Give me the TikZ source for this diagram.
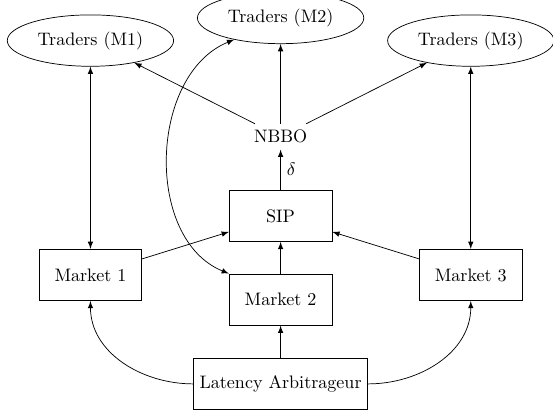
\documentclass[tikz,border=0pt]{standalone}
\usepackage{tikz}
\usetikzlibrary{shapes}
\usepackage{amsmath}
\usepackage{amssymb}

\begin{document}
\begin{tikzpicture}[>=latex,
  market/.style={draw, rectangle, minimum width=2cm, minimum height=1cm},
  traders/.style={draw, ellipse, minimum height=1cm}]
  \useasboundingbox (-5.46,-3.89) rectangle (5.30,4.20);

  \node[traders] (traders1) at (-3.7,3.41) {Traders (M1)};
  \node[traders] (traders2) at (0,3.85) {Traders (M2)};
  \node[traders] (traders3) at (3.7,3.41) {Traders (M3)};

  \node (nbbo) at (0,1.54) {NBBO};
  \node[market] (sip) at (0,0) {SIP};

  \node[market] (market1) at (-3.7,-1.15) {Market 1};
  \node[market] (market2) at (0,-1.63) {Market 2};
  \node[market] (market3) at (3.7,-1.15) {Market 3};

  \node[market] (latarb) at (0,-3.27) {Latency Arbitrageur};

  \path[->] (sip) edge node[right] {$\delta$} (nbbo);
  \path[->] (nbbo) edge (traders1);
  \path[->] (nbbo) edge (traders2);
  \path[->] (nbbo) edge (traders3);

  \path[<->] (traders1) edge (market1);
  \path[<->] (traders3) edge (market3);

  \path[->] (market1) edge (sip);
  \path[->] (market2) edge (sip);
  \path[->] (market3) edge (sip);

  \path[->] (latarb) edge (market2);
  \draw[->] (latarb.west) to[out=180, in=-90] (market1.south);
  \draw[->] (latarb.east) to[out=0, in=-90] (market3.south);

  \draw[<->] (market2.north west) to[out=158, in=-158] (traders2.-155);
\end{tikzpicture}
\end{document}
